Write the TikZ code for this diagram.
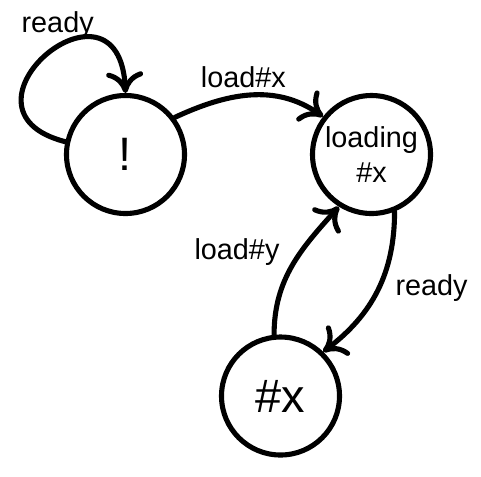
\documentclass[tikz,border=0pt]{standalone}
\usepackage{fontspec}
\setmainfont{Liberation Sans}
\usetikzlibrary{arrows.meta}

\begin{document}
\begin{tikzpicture}[auto, font=\fontsize{16.4}{19.7}\selectfont,
    >={To[length=4.2mm,width=7.4mm,round]},
    state/.style={draw, circle, line width=2.9pt, minimum size=2.36cm, inner sep=0pt},
    big/.style={font=\fontsize{26.7}{30}\selectfont},
    trans/.style={->, line width=2.9pt, line cap=round}]
    \useasboundingbox (0, 0) rectangle (9.62, -9.52);
    \node[state, big] (a) at (2.51, -3.09) {!};
    \node[state, align=center] (b) at (7.43, -3.09) {loading\\\#x};
    \node[state, big] (c) at (5.61, -7.92) {\#x};
    \draw [trans] (a.168) .. controls +(-2.5, 0.64) and +(-0.12, 2.68) .. node[pos=0.56, above] {ready} (a.north);
    \draw [trans] (a.37) to[out=25, in=145] node[pos=0.45, above] {load\#x} (b.142);
    \draw [trans] (c.96) to[out=90, in=228] node[pos=0.43] {load\#y} (b.238);
    \draw [trans] (b.292) to[out=270, in=37] node[pos=0.33] {ready} (c.46);
  \end{tikzpicture}
\end{document}
